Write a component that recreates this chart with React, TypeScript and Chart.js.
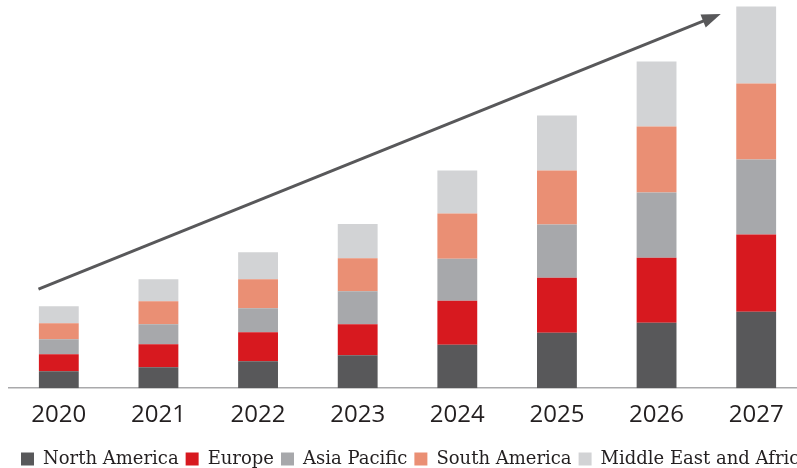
import React, { useEffect, useRef } from "react";
import { Chart, registerables } from "chart.js";

Chart.register(...registerables);

const categories = ["2020", "2021", "2022", "2023", "2024", "2025", "2026", "2027"];
const northAmerica = [17, 21, 27, 33, 43.5, 55.5, 65.5, 76.5];
const europe = [17, 23, 29, 31, 44, 55, 65, 77];
const asiaPacific = [15, 20, 24, 33, 42, 53, 65, 75];
const southAmerica = [16, 23, 29, 33, 45, 54, 66, 76];
const middleEastAfrica = [17, 22, 27, 34, 43, 55, 65, 77];
const seriesNames = ["North America", "Europe", "Asia Pacific", "South America", "Middle East and Africa"];
const seriesColors = ["#58585a", "#d7191f", "#a7a8ab", "#ea8f74", "#d2d3d5"];
const yMax = 388;
// trend arrow, in data units (category index, value)
const arrowStart = { x: -0.204, y: 99 };
const arrowEnd = { x: 6.644, y: 374 };

const arrowPlugin = {
  id: "trendArrow",
  afterDatasetsDraw(chart: any) {
    const { ctx, scales } = chart;
    const x1 = scales.x.getPixelForValue(arrowStart.x);
    const y1 = scales.y.getPixelForValue(arrowStart.y);
    const x2 = scales.x.getPixelForValue(arrowEnd.x);
    const y2 = scales.y.getPixelForValue(arrowEnd.y);
    const ang = Math.atan2(y2 - y1, x2 - x1);
    const headLen = 19;
    const headHalf = 7;
    const bx = x2 - headLen * Math.cos(ang);
    const by = y2 - headLen * Math.sin(ang);
    ctx.save();
    ctx.strokeStyle = "#58585a";
    ctx.fillStyle = "#58585a";
    ctx.lineWidth = 3;
    ctx.beginPath();
    ctx.moveTo(x1, y1);
    ctx.lineTo(bx + 2 * Math.cos(ang), by + 2 * Math.sin(ang));
    ctx.stroke();
    ctx.beginPath();
    ctx.moveTo(x2, y2);
    ctx.lineTo(bx + headHalf * Math.sin(ang), by - headHalf * Math.cos(ang));
    ctx.lineTo(bx - headHalf * Math.sin(ang), by + headHalf * Math.cos(ang));
    ctx.closePath();
    ctx.fill();
    ctx.restore();
  },
};

// lets the one-row legend run past the right edge (it is clipped there, as in the original)
const EXTRA = 80;
const wideLegendPlugin = {
  id: "wideLegend",
  afterInit(chart: any) {
    const lg = chart.legend;
    if (!lg) return;
    const orig = lg.update.bind(lg);
    lg.update = (w: number, h: number, m: any) => orig(w + EXTRA, h, m);
  },
  afterLayout(chart: any) {
    const lg = chart.legend;
    if (!lg) return;
    lg.left += 5;
    lg.right += EXTRA;
  },
};

export default function App() {
  const ref = useRef<HTMLCanvasElement>(null);
  useEffect(() => {
    const values = [northAmerica, europe, asiaPacific, southAmerica, middleEastAfrica];
    const chart = new Chart(ref.current!, {
      type: "bar",
      data: {
        labels: categories,
        datasets: values.map((v, i) => ({
          label: seriesNames[i],
          data: v,
          backgroundColor: seriesColors[i],
          borderWidth: 0,
          barPercentage: 0.4,
          categoryPercentage: 1,
        })),
      },
      options: {
        animation: false,
        responsive: false,
        maintainAspectRatio: false,
        layout: { padding: { left: 9, right: 6, top: 0, bottom: 0 } },
        plugins: {
          tooltip: { enabled: false },
          legend: {
            position: "bottom",
            align: "start",
            labels: {
              boxWidth: 13,
              boxHeight: 13,
              padding: 7,
              color: "#231f20",
              font: { family: "DejaVu Serif", size: 18 },
            },
          },
        },
        scales: {
          x: {
            stacked: true,
            grid: { display: false, drawTicks: false },
            border: { display: true, color: "#a9a9ab", width: 1.5 },
            ticks: {
              color: "#231f20",
              padding: 13,
              font: { family: "Open Sans", size: 24, weight: "500" },
            },
          },
          y: {
            stacked: true,
            display: false,
            min: 0,
            max: yMax,
          },
        },
      },
      plugins: [arrowPlugin, wideLegendPlugin],
    });
    return () => chart.destroy();
  }, []);
  return (
    <div style={{ position: "fixed", left: 0, top: 0, width: 797, height: 468, overflow: "hidden", background: "#fff" }}>
      <canvas ref={ref} width={812} height={478} style={{ display: "block" }} />
    </div>
  );
}
